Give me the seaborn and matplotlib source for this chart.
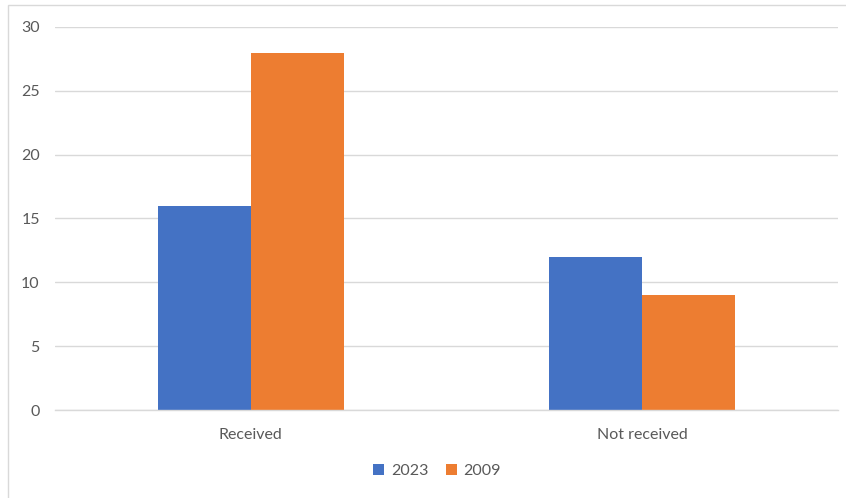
import matplotlib
matplotlib.use("Agg")
import matplotlib.pyplot as plt
import seaborn as sns
import pandas as pd
from matplotlib.patches import Rectangle

categories = ["Received", "Not received"]
years = ["2023", "2009"]
values_2023 = [16, 12]
values_2009 = [28, 9]
y_ticks = [0, 5, 10, 15, 20, 25, 30]

df = pd.DataFrame({
    "category": categories * 2,
    "year": [years[0]] * len(categories) + [years[1]] * len(categories),
    "value": values_2023 + values_2009,
})

sns.set_theme(style="white")
plt.rcParams["font.family"] = ["Lato", "DejaVu Sans"]

text_color = "#595959"
grid_color = "#D9D9D9"
font_size = 11.5

fig = plt.figure(figsize=(8.46, 4.98), dpi=100)
ax = fig.add_axes([0.065, 0.1767, 0.9255, 0.7691])

sns.barplot(data=df, x="category", y="value", hue="year",
            palette=["#4472C4", "#ED7D31"], width=0.475, gap=0,
            saturation=1, ax=ax, linewidth=0)

ax.set_xlim(-0.5, 1.5)
ax.set_ylim(0, 30)
ax.set_yticks(y_ticks)
ax.yaxis.grid(True, color=grid_color, linewidth=1)
ax.set_axisbelow(True)
for side in ["left", "right", "top"]:
    ax.spines[side].set_visible(False)
ax.spines["bottom"].set_color(grid_color)
ax.spines["bottom"].set_linewidth(1)
ax.set_xlabel("")
ax.set_ylabel("")
ax.tick_params(axis="both", length=0, labelsize=font_size, colors=text_color)
ax.tick_params(axis="y", pad=11)
ax.tick_params(axis="x", pad=13)

handles, labels = ax.get_legend_handles_labels()
ax.legend_.remove()
fig.legend(handles, labels, loc="center", bbox_to_anchor=(437 / 846, 1 - 471 / 498),
           ncol=2, frameon=False, fontsize=font_size, labelcolor=text_color,
           handlelength=0.7, handleheight=0.7, handletextpad=0.4, columnspacing=1.1)

# chart frame
fig.add_artist(Rectangle((8 / 846, -0.1), 1.2, 1 - 5 / 498 + 0.1,
                         transform=fig.transFigure, fill=False,
                         edgecolor=grid_color, linewidth=1))

fig.savefig("out.png", dpi=100)
